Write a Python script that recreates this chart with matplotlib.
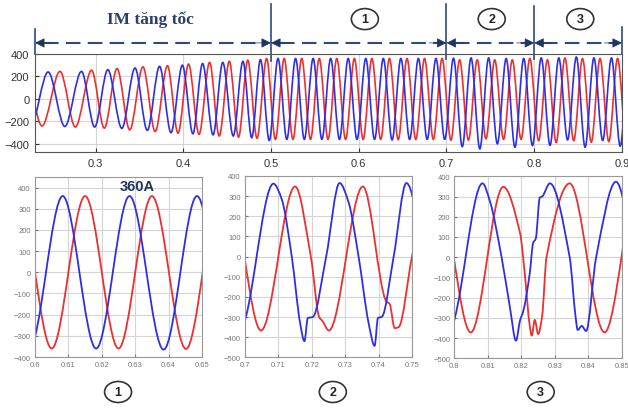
""" Stator currents of the IM during start-up and the 3 operating modes
"""
import numpy as np
import matplotlib
matplotlib.use('Agg')
import matplotlib.pyplot as plt
from matplotlib.path import Path
from matplotlib.patches import PathPatch, Ellipse
from matplotlib.transforms import blended_transform_factory

plt.rcParams['font.family'] = ['Liberation Sans', 'DejaVu Sans']

#########
# Data  #
#########
# Top panel: peaks / troughs (time s, current A)
blue_top_t = [0.226, 0.246, 0.265, 0.284, 0.299, 0.314, 0.330, 0.345, 0.359, 0.373,
              0.386, 0.399, 0.411, 0.422, 0.434, 0.445, 0.457, 0.468, 0.478, 0.488,
              0.498, 0.508, 0.518, 0.528, 0.538, 0.548, 0.558, 0.568, 0.578, 0.588,
              0.598, 0.608, 0.618, 0.628, 0.638, 0.648, 0.658, 0.668, 0.678, 0.688,
              0.698, 0.708, 0.718, 0.728, 0.738, 0.748, 0.758, 0.768, 0.778, 0.788,
              0.798, 0.808, 0.818, 0.828, 0.838, 0.848, 0.858, 0.868, 0.878, 0.888,
              0.898, 0.908]
blue_top_v = [-240, 240, -245, 245, -250, 260, -262, 275, -280, 290,
              -300, 300, -310, 315, -320, 325, -330, 335, -345, 350,
              -370, 360, -360, 360, -360, 360, -360, 360, -360, 360,
              -360, 360, -360, 360, -365, 360, -360, 360, -360, 360,
              -360, 362, -425, 365, -445, 365, -400, 360, -430, 360,
              -415, 365, -413, 365, -365, 373, -430, 365, -370, 365,
              -420, 360]

red_top_t = [0.220, 0.239, 0.2595, 0.277, 0.2955, 0.310, 0.3245, 0.339, 0.354, 0.368,
             0.382, 0.394, 0.406, 0.418, 0.430, 0.441, 0.4525, 0.463, 0.4735, 0.484,
             0.495, 0.505, 0.515, 0.525, 0.535, 0.545, 0.555, 0.565, 0.575, 0.585,
             0.595, 0.605, 0.615, 0.625, 0.635, 0.645, 0.655, 0.665, 0.675, 0.685,
             0.695, 0.705, 0.715, 0.725, 0.735, 0.745, 0.755, 0.765, 0.775, 0.785,
             0.795, 0.805, 0.815, 0.825, 0.835, 0.845, 0.855, 0.865, 0.875, 0.885,
             0.895, 0.905]
red_top_v = [230, -240, 245, -250, 255, -260, 270, -275, 285, -290,
             295, -305, 310, -315, 325, -330, 335, -340, 345, -350,
             360, -360, 360, -360, 360, -360, 360, -360, 360, -360,
             360, -360, 360, -360, 360, -362, 360, -360, 360, -360,
             360, -367, 348, -367, 348, -355, 348, -360, 348, -360,
             360, -372, 348, -388, 365, -372, 360, -385, 360, -380,
             360, -370]

# Zoom 1 (0.60 - 0.65)
z1_blue_t = [0.5983, 0.6083, 0.6183, 0.6283, 0.6385, 0.6485, 0.6585]
z1_blue_v = [-360, 360, -360, 360, -365, 360, -360]
z1_red_t = [0.595, 0.605, 0.615, 0.625, 0.635, 0.6452, 0.6552]
z1_red_v = [360, -360, 360, -360, 360, -362, 360]

# Zoom 2 (0.70 - 0.75)
z2_blue_t = [0.6985, 0.7085, 0.7110, 0.7140, 0.7165, 0.7178, 0.7188, 0.7203, 0.7243,
             0.7283, 0.7310, 0.7340, 0.7370, 0.7388, 0.7398, 0.7410, 0.7445, 0.7483, 0.7583]
z2_blue_v = [-360, 362, 285, 0, -330, -420, -305, -300, 0,
             365, 270, 0, -330, -443, -305, -298, 0, 365, -360]
z2_red_t = [0.695, 0.7048, 0.7150, 0.7198, 0.7222, 0.7232, 0.7251, 0.7353, 0.7423,
            0.7433, 0.7448, 0.7460, 0.7500, 0.7550]
z2_red_v = [350, -367, 348, -10, -300, -320, -367, 348, -222,
            -235, -355, -350, 0, 350]

# Zoom 3 (0.80 - 0.85)
z3_blue_t = [0.7984, 0.8084, 0.8106, 0.8141, 0.8166, 0.8184, 0.8196, 0.8206, 0.8225,
             0.8235, 0.8243, 0.8255, 0.8262, 0.8285, 0.8344, 0.8362, 0.8368, 0.8380,
             0.8393, 0.8423, 0.8482, 0.8582]
z3_blue_v = [-360, 365, 278, 0, -250, -413, -313, -265, -80,
             70, 92, 295, 300, 365, 0, -300, -360, -340,
             -365, 0, 373, -360]
z3_red_t = [0.7949, 0.8049, 0.8146, 0.8196, 0.8210, 0.8225, 0.8231, 0.8240, 0.8250,
            0.8262, 0.8275, 0.8344, 0.8448, 0.8548]
z3_red_v = [360, -372, 348, 120, -80, -340, -388, -310, -380,
            -290, 0, 365, -372, 360]

stage_bounds = [0.231, 0.5, 0.7, 0.8, 0.9]

BLUE = '#2e2ee6'
RED = '#ec2f2f'
NAVY = '#1f3561'
GRID = '#d4d4d4'


#########
# Funcs #
#########
def smooth_curve(ax, t, v, color, lw):
    """ Draw a smooth (monotone cubic) curve through the read points.
    """
    t = np.asarray(t, float)
    v = np.asarray(v, float)
    d = np.diff(v) / np.diff(t)
    m = np.zeros_like(v)
    for i in range(1, len(v) - 1):
        if d[i - 1] * d[i] > 0:
            m[i] = 2.0 / (1.0 / d[i - 1] + 1.0 / d[i])
    verts = [(t[0], v[0])]
    codes = [Path.MOVETO]
    for i in range(len(t) - 1):
        h = t[i + 1] - t[i]
        verts += [(t[i] + h / 3, v[i] + m[i] * h / 3),
                  (t[i + 1] - h / 3, v[i + 1] - m[i + 1] * h / 3),
                  (t[i + 1], v[i + 1])]
        codes += [Path.CURVE4] * 3
    patch = PathPatch(Path(verts, codes), fc='none', ec=color, lw=lw,
                      joinstyle='round', capstyle='round')
    ax.add_patch(patch)


def circled(fig, x, y, label):
    fig.patches.append(Ellipse((x, y), 27 / 628, 21 / 410, transform=fig.transFigure,
                               fc='white', ec='#333333', lw=1.2))
    fig.text(x, y, label, ha='center', va='center', fontsize=9,
             fontweight='bold', color='#222222')


########
# Plot #
########
fig = plt.figure(figsize=(6.28, 4.10), dpi=100)

# Top panel
ax = fig.add_axes([0.0557, 0.626, 0.9347, 0.240])
smooth_curve(ax, red_top_t, red_top_v, RED, 1.2)
smooth_curve(ax, blue_top_t, blue_top_v, BLUE, 1.2)
ax.set_xlim(0.231, 0.9)
ax.set_ylim(-475, 400)
ax.set_xticks([0.3, 0.4, 0.5, 0.6, 0.7, 0.8, 0.9])
ax.set_xticklabels(['0.3', '0.4', '0.5', '0.6', '0.7', '0.8', '0.9'])
ax.set_yticks([-400, -200, 0, 200, 400])
ax.grid(True, color=GRID, lw=0.8)
ax.set_axisbelow(True)
ax.tick_params(direction='in', length=3, labelsize=8, colors='#333333', pad=4)
for s in ax.spines.values():
    s.set_color('#555555')

# Stage markers above the top panel
trans = blended_transform_factory(ax.transData, ax.transAxes)
arrow_y = 1.112
for a, b in zip(stage_bounds[:-1], stage_bounds[1:]):
    ax.plot([a + 0.01, b - 0.01], [arrow_y, arrow_y], transform=trans, color='#2f4a7a',
            lw=1.5, ls=(0, (7, 3.5)), clip_on=False)
    for tip, tail in ((a, a + 0.02), (b, b - 0.02)):
        ax.annotate('', xy=(tip, arrow_y), xytext=(tail, arrow_y),
                    xycoords=trans, textcoords=trans,
                    arrowprops=dict(arrowstyle='-|>', color=NAVY, lw=0.5,
                                    mutation_scale=15, shrinkA=0, shrinkB=0))
vlines = [(0.231, 1.0, 1.254), (0.5, 0.93, 1.51), (0.7, 0.95, 1.51),
          (0.8, 0.95, 1.49), (0.9, 1.0, 1.27)]
for x, y0, y1 in vlines:
    ax.plot([x, x], [y0, y1], transform=trans, color='#2f4a7a', lw=1.2, clip_on=False)

fig.text(0.239, 0.951, 'IM tăng tốc', ha='center', va='center', fontsize=12.5,
         fontweight='bold', color='#2b3f6e', family=['Liberation Serif', 'DejaVu Serif'])
for x, lab in zip([0.581, 0.783, 0.924], ['1', '2', '3']):
    circled(fig, x, 0.951, lab)

# Bottom zoomed panels
zooms = [
    ([0.0557, 0.1268, 0.2660, 0.4391], (0.6, 0.65), (-400, 450),
     [0.6, 0.61, 0.62, 0.63, 0.64, 0.65], [-400, -300, -200, -100, 0, 100, 200, 300, 400],
     z1_blue_t, z1_blue_v, z1_red_t, z1_red_v),
    ([0.3901, 0.1261, 0.2660, 0.4422], (0.7, 0.75), (-500, 400),
     [0.7, 0.71, 0.72, 0.73, 0.74, 0.75], [-500, -400, -300, -200, -100, 0, 100, 200, 300, 400],
     z2_blue_t, z2_blue_v, z2_red_t, z2_red_v),
    ([0.7234, 0.1237, 0.2670, 0.4439], (0.8, 0.85), (-500, 400),
     [0.8, 0.81, 0.82, 0.83, 0.84, 0.85], [-500, -400, -300, -200, -100, 0, 100, 200, 300, 400],
     z3_blue_t, z3_blue_v, z3_red_t, z3_red_v),
]
labels_x = [0.188, 0.530, 0.861]
for (rect, xl, yl, xt, yt, bt, bv, rt, rv), lx, lab in zip(zooms, labels_x, ['1', '2', '3']):
    axz = fig.add_axes(rect)
    smooth_curve(axz, rt, rv, RED, 1.3)
    smooth_curve(axz, bt, bv, BLUE, 1.3)
    axz.set_xlim(*xl)
    axz.set_ylim(*yl)
    axz.set_xticks(xt)
    axz.set_xticklabels([f'{v:g}' for v in xt])
    axz.set_yticks(yt)
    axz.grid(True, color=GRID, lw=0.8)
    axz.set_axisbelow(True)
    axz.tick_params(direction='in', length=2, labelsize=5.5, colors='#777777', pad=3)
    for s in axz.spines.values():
        s.set_color('#999999')
    circled(fig, lx, 0.0415, lab)

fig.axes[1].text(0.6305, 406, '360A', ha='center', va='center', fontsize=10.5,
                 fontweight='bold', color=NAVY)

fig.savefig('out.png', dpi=100)
